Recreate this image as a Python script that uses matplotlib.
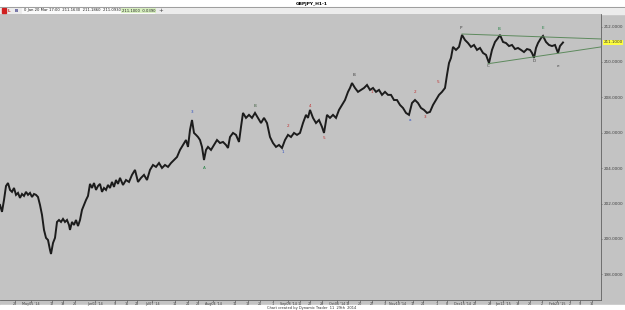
import matplotlib
matplotlib.use('Agg')
import matplotlib.pyplot as plt
from matplotlib.patches import Rectangle

# hourly closes (bar position, price)
bar_pos = [0, 2, 4, 6, 8, 10, 12, 14, 16, 18, 20, 22, 24, 26, 28, 30, 32, 34, 36, 38,
           40, 42, 44, 46, 48, 50, 51, 53, 55, 57, 59, 61, 63, 65, 67, 69, 70, 72, 74, 76,
           78, 80, 82, 84, 86, 88, 90, 92, 94, 96, 98, 100, 102, 104, 106, 108, 110, 112, 114, 116,
           118, 120, 123, 126, 129, 132, 135, 138, 141, 144, 147, 150, 153, 156, 159, 162, 165, 168, 171, 174,
           177, 180, 183, 186, 188, 190, 192, 194, 196, 198, 200, 202, 204, 206, 208, 211, 214, 217, 220, 223,
           226, 228, 230, 233, 236, 239, 241, 243, 246, 249, 252, 255, 258, 261, 264, 267, 270, 273, 276, 279,
           282, 285, 288, 291, 294, 297, 300, 303, 306, 308, 310, 313, 316, 319, 322, 324, 327, 330, 333, 336,
           339, 342, 345, 348, 350, 352, 355, 358, 361, 364, 367, 370, 373, 376, 379, 382, 385, 388, 391, 394,
           397, 400, 403, 406, 409, 412, 415, 418, 421, 424, 427, 430, 433, 436, 439, 442, 445, 447, 449, 451,
           453, 456, 459, 462, 465, 468, 471, 474, 477, 480, 483, 486, 489, 492, 495, 498, 500, 503, 506, 509,
           512, 515, 518, 521, 524, 527, 530, 532, 534, 536, 538, 541, 543, 546, 549, 552, 555, 558, 560, 563]
close = [201.92, 201.53, 202.20, 202.99, 203.16, 202.77, 202.66, 202.88, 202.49, 202.60,
         202.32, 202.54, 202.43, 202.66, 202.49, 202.60, 202.37, 202.54, 202.49, 202.37,
         201.92, 201.36, 200.51, 200.06, 199.94, 199.38, 199.15, 199.77, 200.06, 200.96,
         201.07, 200.96, 201.13, 200.96, 201.07, 200.79, 200.51, 200.96, 200.79, 201.07,
         200.73, 201.07, 201.64, 201.92, 202.20, 202.43, 203.11, 202.88, 203.16, 202.77,
         202.99, 203.11, 202.66, 202.88, 202.77, 203.05, 202.88, 203.22, 202.94, 203.33,
         203.11, 203.45, 203.05, 203.33, 203.22, 203.62, 203.90, 203.22, 203.45, 203.62,
         203.33, 203.90, 204.18, 204.07, 204.29, 204.01, 204.18, 204.07, 204.29, 204.46,
         204.63, 205.03, 205.31, 205.59, 205.20, 206.16, 206.72, 205.99, 205.88, 205.76,
         205.59, 205.20, 204.46, 205.03, 205.20, 205.03, 205.31, 205.59, 205.42, 205.48,
         205.31, 205.14, 205.76, 205.99, 205.88, 205.48, 206.33, 207.12, 206.84, 207.01,
         206.84, 207.12, 206.84, 206.55, 206.84, 206.55, 205.76, 205.42, 205.20, 205.31,
         205.14, 205.59, 205.88, 205.76, 205.99, 205.88, 205.99, 206.55, 207.01, 206.84,
         207.29, 206.84, 206.55, 206.72, 206.33, 205.99, 207.01, 206.84, 207.01, 206.84,
         207.29, 207.57, 207.85, 208.31, 208.53, 208.81, 208.53, 208.31, 208.42, 208.53,
         208.70, 208.42, 208.53, 208.31, 208.42, 208.14, 208.31, 208.14, 208.14, 207.85,
         207.85, 207.57, 207.40, 207.12, 207.01, 207.68, 207.85, 207.68, 207.40, 207.29,
         207.12, 207.18, 207.57, 207.85, 208.14, 208.31, 208.53, 209.27, 209.94, 210.23,
         210.85, 210.68, 210.85, 211.53, 211.24, 211.07, 210.85, 210.96, 210.68, 210.79,
         210.51, 210.40, 209.94, 210.68, 211.13, 211.35, 211.53, 211.13, 211.07, 210.90,
         210.96, 210.73, 210.79, 210.68, 210.56, 210.73, 210.68, 210.51, 210.23, 210.79,
         211.07, 211.35, 211.47, 211.13, 210.96, 210.90, 210.96, 210.51, 210.90, 211.10]

# triangle lines
upper_x = [462, 601]
upper_y = [211.58, 211.30]
lower_x = [488, 601]
lower_y = [209.90, 210.85]

# swing labels
lab_x = [192, 204, 255, 283, 288, 310, 324, 354, 372, 410, 415, 425, 438, 461, 488, 499, 534, 543, 558]
lab_y = [207.20, 204.00, 207.50, 204.90, 206.40, 207.50, 205.70, 209.25, 208.30, 206.70,
         208.30, 206.90, 208.85, 211.90, 209.75, 211.85, 210.05, 211.90, 209.75]
lab_txt = ['3', 'A', 'B', '1', '2', '4', '5', 'B', '1', 'a', '2', '3', '5', 'P', 'C', 'B', 'D', 'E', 'e']
lab_col = ['#3050c0', '#208040', '#406040', '#3050c0', '#c03030', '#c03030', '#c03030', '#404040',
           '#c03030', '#3050c0', '#c03030', '#c03030', '#c03030', '#404040', '#404040', '#208040',
           '#404040', '#208040', '#404040']

price_ticks = [198, 200, 202, 204, 206, 208, 210, 212]
last_price = 211.10

xt_pos = [15, 31, 52, 63, 75, 95, 115, 127, 137, 152, 175, 188, 198, 213, 235, 248, 260, 273, 288, 300,
          310, 322, 337, 348, 360, 372, 385, 398, 413, 423, 437, 447, 463, 475, 490, 503, 518, 530, 542,
          557, 570, 580, 592]
xt_lab = ['28', "May05 '14", '12', '19', '26', "Jun02 '14", '9', '16', '23', "Jul07 '14", '14', '21', '28',
          "Aug04 '14", '11', '18', '25', '1', "Sep08 '14", '15', '22', '29', "Oct06 '14", '13', '20', '27',
          '3', "Nov10 '14", '17', '24', '1', '8', "Dec15 '14", '22', '29', "Jan12 '15", '19', '26', '2',
          "Feb23 '15", '2', '9', '16']

W, H = 625, 310
bg = '#c3c3c3'
fig = plt.figure(figsize=(6.25, 3.1), dpi=100)
fig.patch.set_facecolor(bg)

# white title strip, toolbar strip, white footer strip
fig.add_artist(Rectangle((0, 1 - 7 / H), 1, 7 / H, transform=fig.transFigure, color='white', zorder=0))
fig.add_artist(Rectangle((0, 1 - 14 / H), 1, 7 / H, transform=fig.transFigure, color='#ececec', zorder=0))
fig.add_artist(Rectangle((22 / W, 1 - 13 / H), 132 / W, 5.5 / H, transform=fig.transFigure,
                         color='#fafafa', zorder=0))
fig.add_artist(Rectangle((0, 0), 1, 5 / H, transform=fig.transFigure, color='white', zorder=0))
fig.add_artist(plt.Line2D([0, 1], [1 - 7 / H, 1 - 7 / H], transform=fig.transFigure,
                          color='#909090', lw=0.6))

ax = fig.add_axes([0, 10 / H, 601 / W, (300 - 14) / H])
ax.set_facecolor(bg)
ax.plot(bar_pos, close, color='#1c1c1c', lw=1.4, solid_joinstyle='miter')
ax.plot(upper_x, upper_y, color='#5d8a5d', lw=0.7)
ax.plot(lower_x, lower_y, color='#5d8a5d', lw=0.7)
for x, y, t, c in zip(lab_x, lab_y, lab_txt, lab_col):
    ax.text(x, y, t, color=c, fontsize=3, ha='center', va='center')

ax.set_xlim(0, 601)
ax.set_ylim(196.55, 212.71)
ax.yaxis.tick_right()
ax.set_yticks(price_ticks)
ax.set_yticklabels(['%.4f' % v for v in price_ticks])
ax.set_xticks(xt_pos)
ax.set_xticklabels(xt_lab)
ax.tick_params(axis='y', length=1, width=0.4, labelsize=3.0, pad=0.8, colors='#404040')
ax.tick_params(axis='x', length=1.2, width=0.4, labelsize=2.4, pad=0.4, colors='#404040')
for s in ['top', 'left']:
    ax.spines[s].set_visible(False)
for s in ['right', 'bottom']:
    ax.spines[s].set_color('#606060')
    ax.spines[s].set_linewidth(0.6)

# highlighted last price on the scale
ax.text(1.004, last_price, '%.4f' % last_price, transform=ax.get_yaxis_transform(),
        fontsize=3.0, va='center', ha='left', color='#303030',
        bbox=dict(boxstyle='square,pad=0.2', fc='#ffff40', ec='none'))

# title, toolbar, footer
fig.text(312 / W, 1 - 3.5 / H, 'GBPJPY_H1-1', fontsize=3.2, weight='bold', ha='center', va='center')
fig.add_artist(Rectangle((2 / W, 1 - 12.5 / H), 4 / W, 4 / H, transform=fig.transFigure, color='#d02020'))
fig.text(9 / W, 1 - 10.5 / H, 'L', fontsize=3, color='#c03030', ha='center', va='center', weight='bold')
fig.text(16 / W, 1 - 10.5 / H, 'B', fontsize=3, color='#303080', ha='center', va='center', weight='bold')
fig.text(24 / W, 1 - 10.5 / H, '0 Jan 20 Mar 17:00  211.1630  211.1860  211.0930',
         fontsize=2.7, ha='left', va='center', color='#202020')
fig.text(122 / W, 1 - 10.5 / H, '211.1000  0.0390', fontsize=2.7, ha='left', va='center', color='#202020',
         bbox=dict(boxstyle='square,pad=0.2', fc='#d8f0c0', ec='none'))
fig.text(161 / W, 1 - 10.5 / H, '+', fontsize=4, ha='center', va='center', color='#404040')
fig.text(312 / W, 0.3 / H, 'Chart created by Dynamic Trader  11  29th  2014', fontsize=2.6,
         ha='center', va='bottom', color='#303030')

fig.savefig('out.png', dpi=100, facecolor=fig.get_facecolor())
